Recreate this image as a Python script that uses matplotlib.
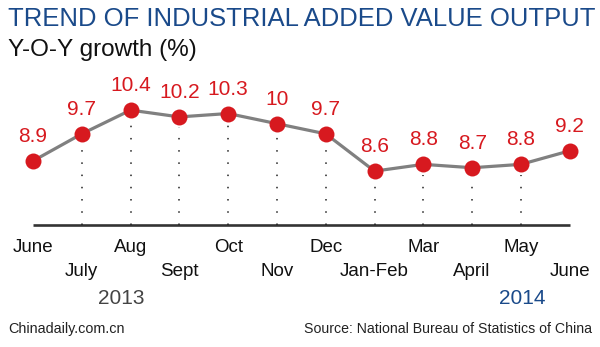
import matplotlib
matplotlib.use("Agg")
import matplotlib.pyplot as plt
import matplotlib.transforms as mtransforms

plt.rcParams["font.family"] = ["Liberation Sans", "DejaVu Sans"]

months = ["June", "July", "Aug", "Sept", "Oct", "Nov", "Dec",
          "Jan-Feb", "Mar", "April", "May", "June"]
growth = [8.9, 9.7, 10.4, 10.2, 10.3, 10, 9.7, 8.6, 8.8, 8.7, 8.8, 9.2]
value_labels = ["8.9", "9.7", "10.4", "10.2", "10.3", "10", "9.7",
                "8.6", "8.8", "8.7", "8.8", "9.2"]

W, H = 600, 347
fig = plt.figure(figsize=(W / 100, H / 100), dpi=100)
ax = fig.add_axes([0, 0, 1, 1])
ax.set_xlim(-0.676, 11.62)
ax.set_ylim(3.41, 13.65)
ax.axis("off")

RED = "#d7191f"
BLUE = "#1a4a8a"
base = 7.01

# axis line
ax.plot([0, 11], [base, base], color="#333333", lw=1.9, solid_capstyle="butt", zorder=1)

# dotted drop lines, skipping both ends
for i in range(1, len(growth) - 1):
    ax.plot([i, i], [base, growth[i] - 0.3], color="#222222", lw=1.1,
            linestyle=(0, (1, 7)), zorder=1)

ax.plot(range(len(growth)), growth, color="#808080", lw=2.3, zorder=2)
ax.plot(range(len(growth)), growth, "o", color=RED, ms=11.5, mec="none", zorder=3)

for i, (v, lab) in enumerate(zip(growth, value_labels)):
    ax.text(i, v + 0.72, lab, color=RED, fontsize=15, ha="center", va="center")

# month labels in two staggered rows
tr = mtransforms.blended_transform_factory(ax.transData, fig.transFigure)
for i, m in enumerate(months):
    y = 1 - (247 if i % 2 == 0 else 271) / H
    ax.text(i, y, m, transform=tr, fontsize=13.5, ha="center", va="center", color="#111111")

fig.text(121 / W, 1 - 298 / H, "2013", fontsize=15, color="#444444", ha="center", va="center")
fig.text(522 / W, 1 - 298 / H, "2014", fontsize=15, color=BLUE, ha="center", va="center")

fig.text(8 / W, 1 - 19 / H, "TREND OF INDUSTRIAL ADDED VALUE OUTPUT",
         fontsize=18.45, color=BLUE, ha="left", va="center")
fig.text(8 / W, 1 - 50 / H, "Y-O-Y growth (%)", fontsize=17.5, color="#111111",
         ha="left", va="center")
fig.text(8 / W, 1 - 329 / H, "Chinadaily.com.cn", fontsize=10.4, color="#222222",
         ha="left", va="center")
fig.text(592 / W, 1 - 329 / H, "Source: National Bureau of Statistics of China",
         fontsize=10.2, color="#222222", ha="right", va="center")

fig.savefig("out.png", dpi=100)
